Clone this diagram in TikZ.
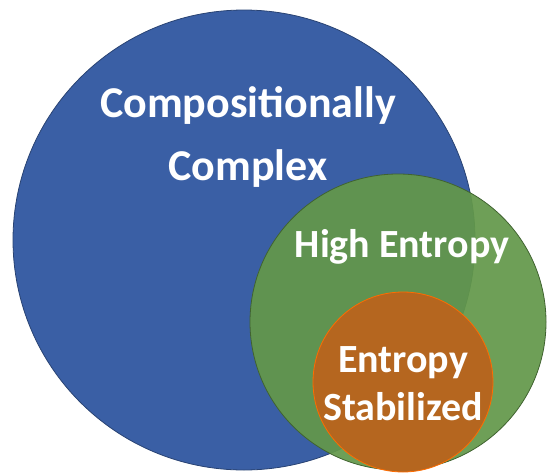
\documentclass[tikz,border=0pt]{standalone}
\usepackage{fontspec}
\setmainfont{Carlito}
\definecolor{setblue}{HTML}{3A5FA5}
\definecolor{setgreen}{HTML}{63984A}
\definecolor{setorange}{HTML}{B5661F}
\tikzset{
  label text/.style={text=white, font=\bfseries, align=center, inner sep=0pt}
}
\begin{document}
\begin{tikzpicture}[x=1pt, y=-1pt]

  \useasboundingbox (0,0) rectangle (548,474);

  % Verzamelingen
  \filldraw[fill=setblue, draw=setblue!70!black, line width=0.8pt]
      (244,240) ellipse (231 and 230);
  \filldraw[fill=setgreen, fill opacity=0.93, draw=setgreen!65!black, line width=0.8pt]
      (398,322) circle (148);
  \filldraw[fill=setorange, draw=orange!85!red, line width=0.8pt]
      (403,382) circle (90);

  % Labels (anchor base = laatste regel)
  \node[label text, anchor=base, font=\bfseries\fontsize{44}{63}\selectfont]
      (cc) at (248,180) {Compositionally\\Complex};
  \node[label text, anchor=base, font=\bfseries\fontsize{40}{48}\selectfont]
      (he) at (402,257) {High Entropy};
  \node[label text, anchor=base, font=\bfseries\fontsize{40}{48}\selectfont]
      (es) at (403,420) {Entropy\\Stabilized};

\end{tikzpicture}
\end{document}
